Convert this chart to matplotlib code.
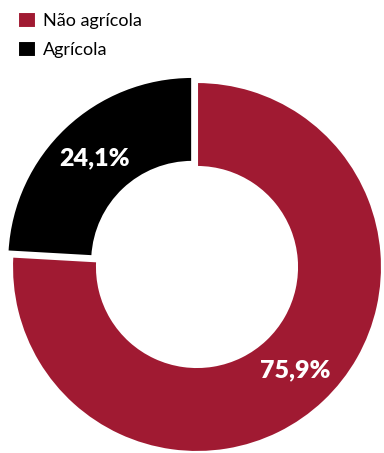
import matplotlib.pyplot as plt

labels = ["Não agrícola", "Agrícola"]
values = [75.9, 24.1]
colors = ["#A01A32", "#000000"]
explode = [0, 7]  # data units (pixels here)

plt.rcParams['font.family'] = ['Lato', 'DejaVu Sans']

fig = plt.figure(figsize=(3.84, 4.53), dpi=100)
ax = fig.add_axes([0, 0, 1, 1])

# donut, clockwise from the top; pie is partly cut by the figure edge
wedges, texts, autotexts = ax.pie(
    values, colors=colors, explode=explode, startangle=90, counterclock=False,
    center=(197, 186), radius=185, pctdistance=0.77,
    autopct=lambda p: f"{p:.1f}%".replace(".", ","),
    wedgeprops=dict(width=85, edgecolor="white", linewidth=1.5),
    textprops=dict(color="white", fontsize=18, fontweight="heavy"),
)

ax.set_xlim(0, 384)
ax.set_ylim(0, 453)
ax.set_aspect("equal")
ax.axis("off")

fig.legend(wedges, labels, loc="upper left", bbox_to_anchor=(0.028, 0.99),
           frameon=False, fontsize=13, handlelength=1.0, handleheight=1.0,
           handletextpad=0.4, labelspacing=0.65, borderaxespad=0)

fig.savefig("out.png", dpi=100)
